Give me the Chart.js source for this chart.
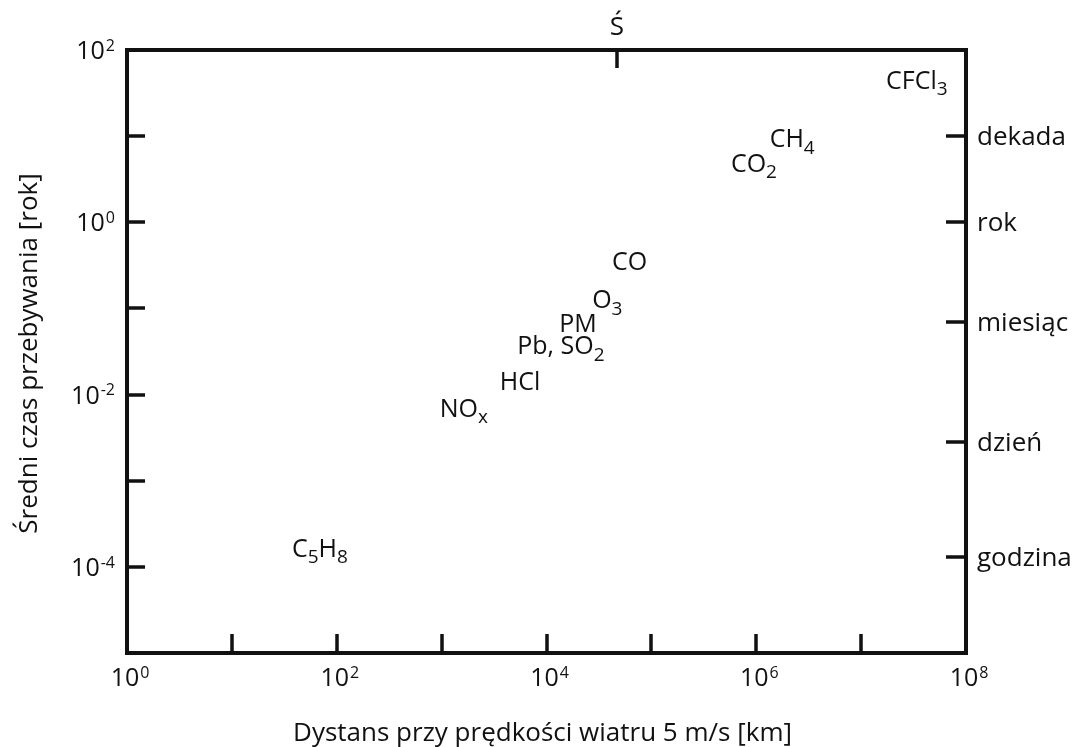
<!DOCTYPE html>
<html>
<head>
<meta charset="utf-8">
<script src="https://cdn.jsdelivr.net/npm/chart.js@4/dist/chart.umd.min.js"></script>
<style>
html,body{margin:0;padding:0;background:#fff}
#wrap{width:1079px;height:747px;position:relative}
</style>
</head>
<body>
<div id="wrap"><canvas id="c"></canvas></div>
<script>
// ---- data ----
const species = ['CFCl_3', 'CH_4', 'CO_2', 'CO', 'O_3', 'PM', 'Pb, SO_2', 'HCl', 'NO_x', 'C_5H_8'];
const distanceKm = [3.4e7, 2.2e6, 9.5e5, 6.2e4, 3.8e4, 2.0e4, 1.37e4, 5.6e3, 1.63e3, 69];
const residenceYears = [45, 9.5, 4.9, 0.36, 0.128, 0.068, 0.0376, 0.0144, 0.0070, 1.66e-4];

const xTickExponents = [1, 2, 3, 4, 5, 6, 7];
const xLabelExponents = [0, 2, 4, 6, 8];
const yTickExponents = [-4, -3, -2, -1, 0, 1];
const yLabelExponents = [-4, -2, 0, 2];

const timeLabels = ['dekada', 'rok', 'miesiąc', 'dzień', 'godzina'];
const timeValuesYears = [10, 1, 0.07, 0.0028, 1.3e-4];

const topMarkLabels = ['Ś'];
const topMarkValuesKm = [4.7e4];

const xTitle = 'Dystans przy prędkości wiatru 5 m/s [km]';
const yTitle = 'Średni czas przebywania [rok]';

// ---- drawing helpers ----
const FONT = '"Open Sans", Lato, sans-serif';
const SIZE = 26;
const INK = '#111';

function parseFormula(s) {
  const segs = [];
  for (let i = 0; i < s.length; i++) {
    if (s[i] === '_' && i + 1 < s.length) { segs.push({t: s[i + 1], sub: true}); i++; }
    else {
      if (segs.length && !segs[segs.length - 1].sub) segs[segs.length - 1].t += s[i];
      else segs.push({t: s[i], sub: false});
    }
  }
  return segs;
}

function drawFormula(ctx, s, cx, cy, size) {
  const segs = parseFormula(s);
  const subSize = Math.round(size * 0.74);
  let total = 0;
  segs.forEach(g => {
    ctx.font = (g.sub ? subSize : size) + 'px ' + FONT;
    g.w = ctx.measureText(g.t).width;
    total += g.w;
  });
  let x = cx - total / 2;
  const base = cy + size * 0.36;
  ctx.textAlign = 'left';
  ctx.textBaseline = 'alphabetic';
  segs.forEach(g => {
    ctx.font = (g.sub ? subSize : size) + 'px ' + FONT;
    ctx.fillText(g.t, x, g.sub ? base + size * 0.26 : base);
    x += g.w;
  });
}

function drawPower(ctx, exp, x, cy, size, align) {
  const supSize = Math.round(size * 0.64);
  const mainT = '10', supT = String(exp);
  ctx.font = size + 'px ' + FONT;
  const w1 = ctx.measureText(mainT).width;
  ctx.font = supSize + 'px ' + FONT;
  const w2 = ctx.measureText(supT).width + 1;
  const total = w1 + w2;
  let x0 = align === 'right' ? x - total : x - total / 2;
  const base = cy + size * 0.36;
  ctx.textAlign = 'left';
  ctx.textBaseline = 'alphabetic';
  ctx.font = size + 'px ' + FONT;
  ctx.fillText(mainT, x0, base);
  ctx.font = supSize + 'px ' + FONT;
  ctx.fillText(supT, x0 + w1 + 1, base - size * 0.33);
}

const decorations = {
  id: 'decorations',
  afterDraw(chart) {
    const ctx = chart.ctx;
    const xs = chart.scales.x, ys = chart.scales.y;
    const {left, right, top, bottom} = chart.chartArea;
    ctx.save();
    ctx.fillStyle = INK;
    ctx.strokeStyle = INK;

    // frame
    ctx.lineWidth = 4;
    ctx.lineJoin = 'miter';
    ctx.strokeRect(left, top, right - left, bottom - top);

    // inward ticks
    ctx.lineWidth = 3.5;
    ctx.lineCap = 'butt';
    ctx.beginPath();
    yTickExponents.forEach(e => {
      const py = Math.round(ys.getPixelForValue(Math.pow(10, e)));
      ctx.moveTo(left, py); ctx.lineTo(left + 18, py);
    });
    xTickExponents.forEach(e => {
      const px = Math.round(xs.getPixelForValue(Math.pow(10, e)));
      ctx.moveTo(px, bottom); ctx.lineTo(px, bottom - 19);
    });
    timeValuesYears.forEach(v => {
      const py = Math.round(ys.getPixelForValue(v));
      ctx.moveTo(right, py); ctx.lineTo(right - 20, py);
    });
    topMarkValuesKm.forEach(v => {
      const px = Math.round(xs.getPixelForValue(v));
      ctx.moveTo(px, top); ctx.lineTo(px, top + 18);
    });
    ctx.stroke();

    // tick labels
    yLabelExponents.forEach(e => {
      drawPower(ctx, e, left - 12, ys.getPixelForValue(Math.pow(10, e)), 25, 'right');
    });
    xLabelExponents.forEach(e => {
      drawPower(ctx, e, xs.getPixelForValue(Math.pow(10, e)) + 3, 677, 25, 'center');
    });

    // right-side time labels
    ctx.font = SIZE + 'px ' + FONT;
    ctx.textAlign = 'left';
    ctx.textBaseline = 'alphabetic';
    timeLabels.forEach((t, i) => {
      const py = ys.getPixelForValue(timeValuesYears[i]);
      ctx.fillText(t, right + 11, py + 25 * 0.36);
    });

    // top mark label
    ctx.textAlign = 'center';
    topMarkLabels.forEach((t, i) => {
      const px = xs.getPixelForValue(topMarkValuesKm[i]);
      ctx.fillText(t, px, top - 15);
    });

    // species labels at data points
    const meta = chart.getDatasetMeta(0);
    meta.data.forEach((pt, i) => {
      drawFormula(ctx, species[i], pt.x, pt.y, 25);
    });

    // axis titles
    ctx.font = SIZE + 'px ' + FONT;
    ctx.textAlign = 'center';
    ctx.fillText(xTitle, (left + right) / 2 - 4, 741);
    ctx.save();
    ctx.translate(37, (top + bottom) / 2 + 2);
    ctx.rotate(-Math.PI / 2);
    ctx.fillText(yTitle, 0, 0);
    ctx.restore();

    ctx.restore();
  }
};

new Chart(document.getElementById('c'), {
  type: 'scatter',
  data: {
    datasets: [{
      data: distanceKm.map((x, i) => ({x: x, y: residenceYears[i]})),
      pointRadius: 0,
      pointHoverRadius: 0,
      showLine: false
    }]
  },
  options: {
    responsive: true,
    maintainAspectRatio: false,
    animation: false,
    events: [],
    layout: {padding: {left: 127, right: 113, top: 50, bottom: 94}},
    plugins: {legend: {display: false}, tooltip: {enabled: false}},
    scales: {
      x: {type: 'logarithmic', min: 1, max: 1e8, display: false},
      y: {type: 'logarithmic', min: 1e-5, max: 100, display: false}
    }
  },
  plugins: [decorations]
});
</script>
</body>
</html>
